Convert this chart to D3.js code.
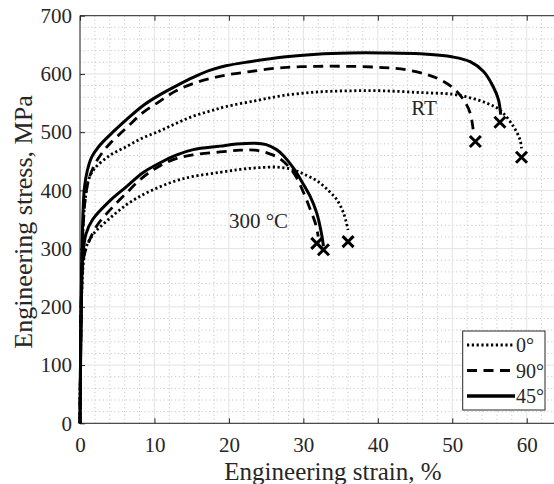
<!DOCTYPE html>
<html><head><meta charset="utf-8">
<script src="https://cdn.jsdelivr.net/npm/d3@7"></script>
<style>body{margin:0;background:#fff}svg{display:block}svg text{font-family:"Liberation Serif","Times New Roman",serif !important;fill:#262626}</style>
</head><body><svg id="c" width="554" height="484" font-family="Liberation Serif"></svg>
<script>
const xTicks=[0,10,20,30,40,50,60];
const yTicks=[0,100,200,300,400,500,600,700];
const legendLabels=["0°","90°","45°"];
const annotations=[{t:"RT",x:44.5,y:530},{t:"300 °C",x:20,y:335}];
const rt0=[[0,0],[0.2,240],[0.4,330],[0.7,385],[1.2,420],[2,438],[4,460],[6.2,475],[8.4,490],[10.7,502],[12.9,515],[15.1,527],[17.4,536],[19.6,544],[23.6,554],[27.3,563],[31.8,569],[36.3,571],[40.7,571],[45.7,568],[50.1,565],[52.4,559],[54.6,550],[56.4,538],[58.2,510],[59.1,487],[59.3,472]];
const rt90=[[0,0],[0.2,240],[0.4,330],[0.7,385],[1.2,420],[2,445],[3,465],[4,480],[6.2,507],[8.4,533],[10.7,553],[12.9,571],[15.1,583],[17.4,592],[19.6,598],[22.8,604],[27.3,611],[31.8,613],[36.3,613],[40.7,611],[43.9,607],[46.6,599],[48.4,590],[50.1,576],[51.5,556],[52.4,533],[52.8,505]];
const rt45=[[0,0],[0.2,250],[0.4,360],[0.6,405],[1,435],[1.6,458],[2.5,475],[4,495],[6.2,521],[8.4,545],[10.7,564],[13,580],[15.2,594],[17.4,606],[19.6,614],[22.8,621],[27.3,629],[31.8,634],[36.3,636],[40.7,636],[45.7,634.5],[50.1,629],[52.4,621],[54.2,604],[55.5,578],[56.2,556],[56.5,530]];
const ht0=[[0,0],[0.2,210],[0.5,280],[0.9,305],[1.8,325],[4,352],[6.2,375],[8.5,393],[10.7,406],[13,417],[15.2,424],[18.8,431],[21.5,436],[24,439],[26.5,440],[28.5,436],[30.4,426],[32,415],[33.5,398],[34.5,384],[35.4,361],[36,332]];
const ht90=[[0,0],[0.2,220],[0.5,285],[1.1,309],[2.2,338],[4,366],[6.2,395],[8.4,422],[10.7,442],[13,455],[15.2,461],[18.8,466],[21.5,469],[23.5,469],[25.2,464],[26.9,454],[28.7,430],[30,397],[30.9,368],[31.6,344],[32,321]];
const ht45=[[0,0],[0.2,220],[0.4,290],[0.8,325],[1.7,350],[4,382],[6.2,406],[8.4,430],[10.7,447],[13,461],[15.2,470],[18.8,476],[21,479.5],[23.5,481],[25,478.5],[26.4,470],[27.3,460],[28.7,438],[29.8,415],[30.9,390],[31.8,361],[32.4,328],[32.7,304]];
const fractures=[[59.3,457],[53.1,484],[56.4,517],[36,312],[31.8,309],[32.7,298]];

const FF='"Liberation Serif","Times New Roman",serif';
const svg=d3.select("#c");
const L=80,T=15.7,B=423.3;
const x=d3.scaleLinear().domain([0,70]).range([L,L+70*7.4455]);
const y=d3.scaleLinear().domain([0,700]).range([B,T]);
const R=x(70);
// grid
const g=svg.append("g");
g.selectAll(".mx").data(d3.range(2,70,2).filter(v=>v%10)).join("line")
 .attr("x1",d=>x(d)).attr("x2",d=>x(d)).attr("y1",T).attr("y2",B)
 .attr("stroke","#c8c8c8").attr("stroke-width",1).attr("stroke-dasharray","1.2,2.6");
g.selectAll(".my").data(d3.range(20,700,20).filter(v=>v%100)).join("line")
 .attr("x1",L).attr("x2",R).attr("y1",d=>y(d)).attr("y2",d=>y(d))
 .attr("stroke","#c8c8c8").attr("stroke-width",1).attr("stroke-dasharray","1.2,2.6");
g.selectAll(".Mx").data(xTicks.concat([70])).join("line")
 .attr("x1",d=>x(d)).attr("x2",d=>x(d)).attr("y1",T).attr("y2",B)
 .attr("stroke","#e3e3e3").attr("stroke-width",1);
g.selectAll(".My").data(yTicks).join("line")
 .attr("x1",L).attr("x2",R).attr("y1",d=>y(d)).attr("y2",d=>y(d))
 .attr("stroke","#e3e3e3").attr("stroke-width",1);

// axes
const ax=svg.append("g").attr("transform",`translate(0,${B})`).call(d3.axisBottom(x).tickValues(xTicks).tickSize(-5).tickPadding(14).tickFormat(d3.format("d")));
const ay=svg.append("g").attr("transform",`translate(${L},0)`).call(d3.axisLeft(y).tickValues(yTicks).tickSize(-5).tickPadding(8).tickFormat(d3.format("d")));
const at=svg.append("g").attr("transform",`translate(0,${T})`).call(d3.axisTop(x).tickValues(xTicks).tickSize(-5).tickFormat(""));
[ax,ay,at].forEach(a=>{a.attr("font-family",FF).attr("font-size",21);
 a.selectAll("path,line").attr("stroke","#262626");a.select(".domain").attr("stroke-width",1);
 a.selectAll("text").attr("font-family",FF).attr("font-size",21).attr("fill","#262626");});
at.select(".domain").attr("d",`M${L},0H${R}`);
ax.select(".domain").attr("d",`M${L},0H${R}`);
ay.select(".domain").attr("d",`M0,${y(0)}V${T}`);

// curves
const line=d3.line().x(d=>x(d[0])).y(d=>y(d[1])).curve(d3.curveCatmullRom.alpha(0.5));
const styles={dot:"2.2,2.6",dash:"10,6.5",solid:null};
const series=[[rt0,"dot"],[rt90,"dash"],[rt45,"solid"],[ht0,"dot"],[ht90,"dash"],[ht45,"solid"]];
svg.selectAll(".curve").data(series).join("path").attr("d",d=>line(d[0])).attr("fill","none")
 .attr("stroke","#000").attr("stroke-width",d=>d[1]==="solid"?3:2.8).attr("stroke-dasharray",d=>styles[d[1]]);
// fracture markers
const s=5.5;
svg.selectAll(".fx").data(fractures).join("path")
 .attr("d",d=>{const cx=x(d[0]),cy=y(d[1]);return `M${cx-s},${cy-s}L${cx+s},${cy+s}M${cx-s},${cy+s}L${cx+s},${cy-s}`;})
 .attr("stroke","#000").attr("stroke-width",3).attr("fill","none");

// annotations
svg.selectAll(".ann").data(annotations).join("text").attr("x",d=>x(d.x)).attr("y",d=>y(d.y))
 .attr("font-family",FF).attr("font-size",21).text(d=>d.t);

// axis labels
svg.append("text").attr("x",333).attr("y",479.5).attr("text-anchor","middle").attr("font-family",FF).attr("font-size",25).text("Engineering strain, %");
svg.append("text").attr("transform",`translate(31.5,222) rotate(-90)`).attr("text-anchor","middle").attr("font-family",FF).attr("font-size",26).text("Engineering stress, MPa");

// legend
const lg=svg.append("g");
lg.append("rect").attr("x",462.7).attr("y",331).attr("width",82.3).attr("height",79).attr("fill","#fff").attr("stroke","#262626").attr("stroke-width",1);
const lstyles=["dot","dash","solid"];
legendLabels.forEach((t,i)=>{const yy=345+i*25.5;
 lg.append("line").attr("x1",467).attr("x2",515).attr("y1",yy).attr("y2",yy).attr("stroke","#000").attr("stroke-width",i===2?3.5:2.8).attr("stroke-dasharray",styles[lstyles[i]]);
 lg.append("text").attr("x",516).attr("y",yy+7).attr("font-family",FF).attr("font-size",20).text(t);});
</script></body></html>
